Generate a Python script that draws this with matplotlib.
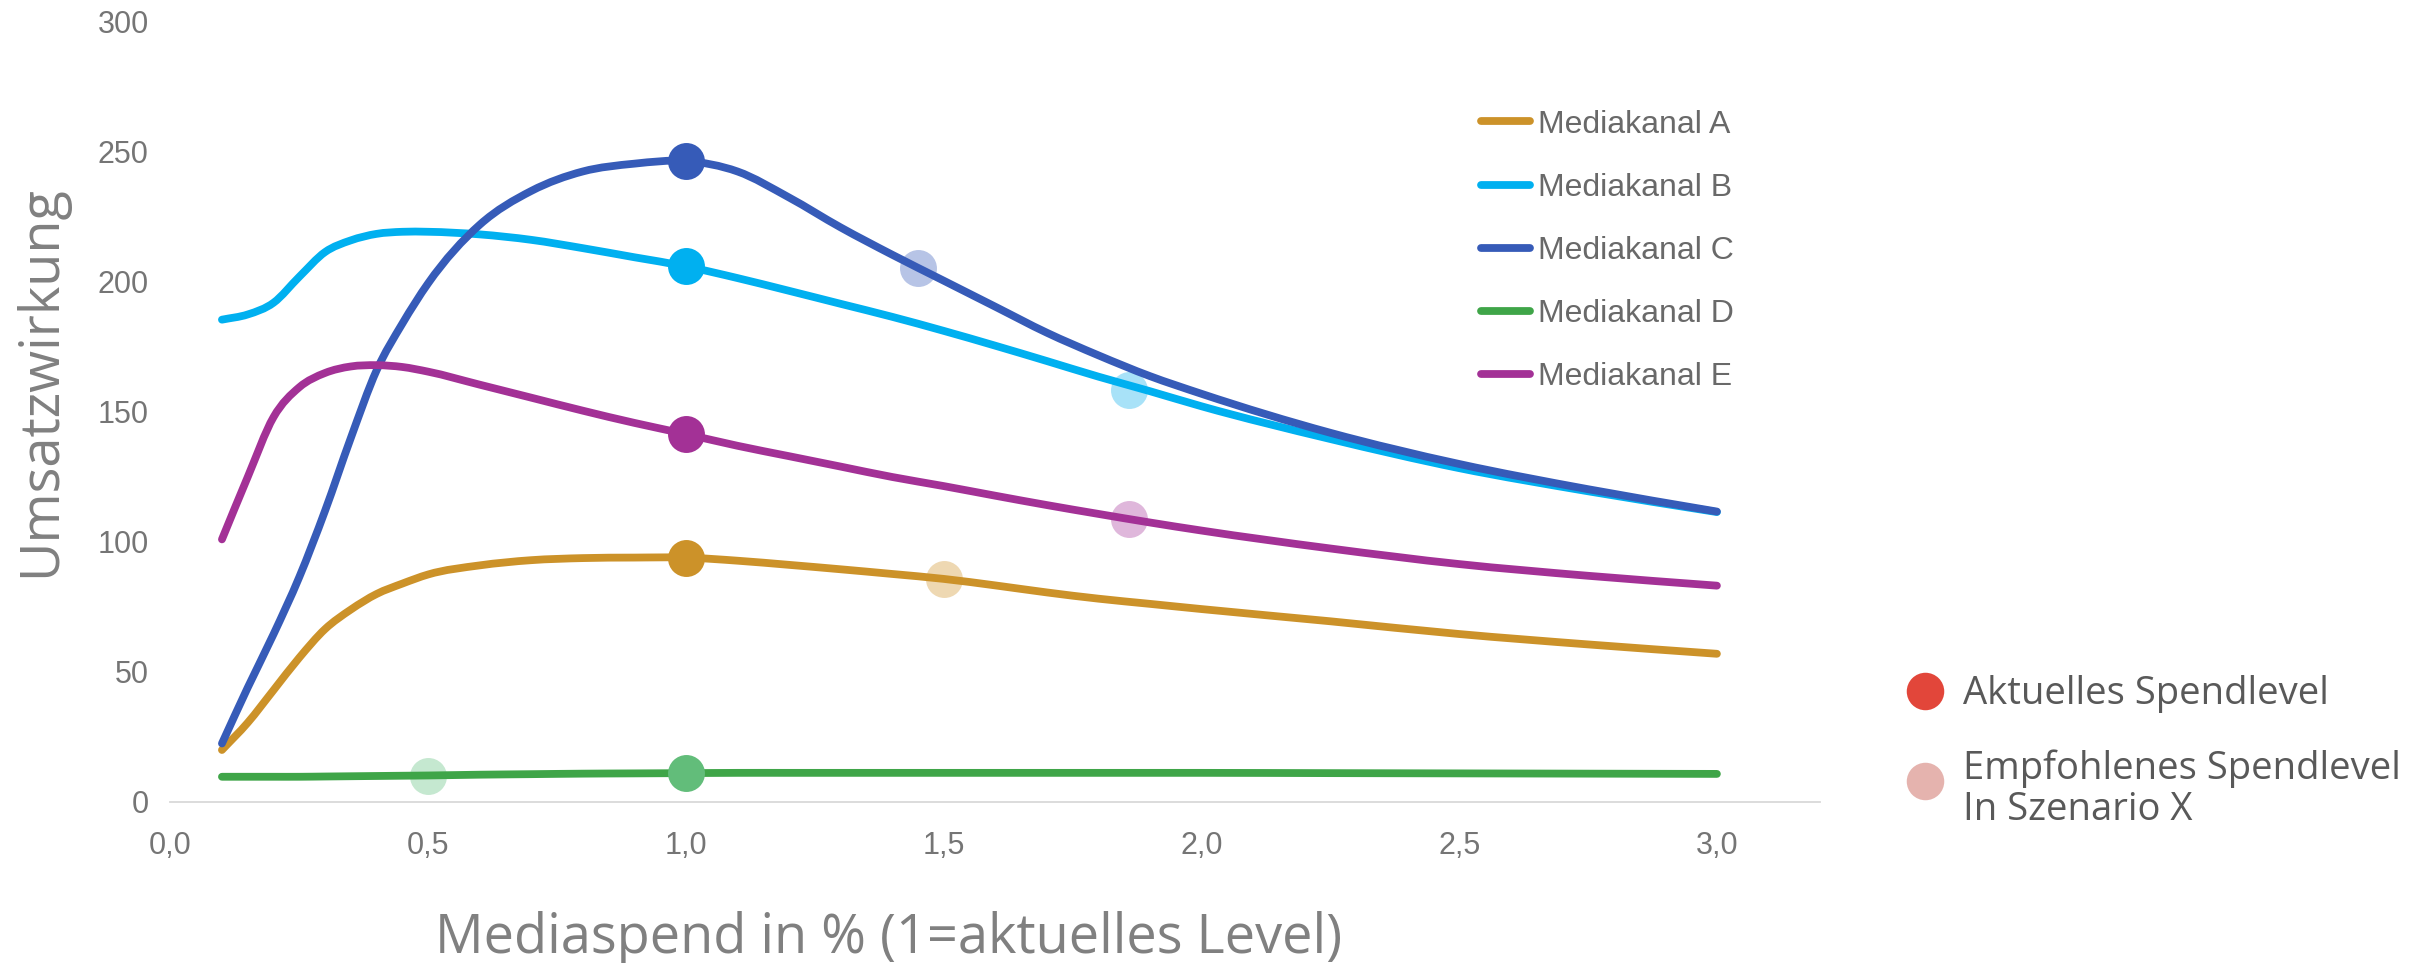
import numpy as np
import matplotlib.pyplot as plt
from matplotlib.lines import Line2D
from matplotlib.path import Path
from matplotlib.patches import PathPatch
from matplotlib.legend_handler import HandlerLine2D

# Mediaspend (1 = aktuelles Level)
spend = [0.1, 0.15, 0.2, 0.25, 0.3, 0.35, 0.4, 0.45, 0.5, 0.6, 0.7, 0.8, 0.9, 1.0,
         1.1, 1.2, 1.3, 1.4, 1.5, 1.6, 1.7, 1.8, 1.9, 2.0, 2.25, 2.5, 2.75, 3.0]

kanal_a = [20, 30.5, 43, 55.5, 66.5, 74, 80, 84, 87.5, 91, 93, 93.8, 94, 94,
           92.8, 91.2, 89.5, 87.7, 85.8, 83.3, 80.6, 78.2, 76.2, 74.2, 69.5, 64.6, 60.6, 57]
kanal_b = [185.5, 187.5, 192, 202, 211.5, 216, 218.5, 219.3, 219.3, 218.3, 216.2, 213, 209.5, 206,
           201.5, 196.6, 191.6, 186.6, 181.2, 175.5, 169.6, 163.6, 158, 152.2, 139.6, 128.4, 119.5, 111.5]
kanal_c = [22.5, 44, 64.5, 86.5, 112, 140, 166, 184, 199.5, 222, 235, 242.5, 245.5, 246.5,
           242.5, 232.5, 221, 210.5, 200.5, 190.5, 180.5, 171.8, 163.8, 157, 142, 130, 120.3, 111.7]
kanal_d = [9.7, 9.7, 9.7, 9.7, 9.8, 9.9, 10, 10.1, 10.2, 10.5, 10.7, 10.9, 11, 11.1,
           11.2, 11.2, 11.2, 11.2, 11.2, 11.2, 11.2, 11.2, 11.2, 11.2, 11.1, 11, 10.9, 10.8]
kanal_e = [101, 125, 148, 159.5, 165, 167.5, 168, 167.3, 165.5, 160.5, 155.5, 150.5, 145.8, 141.5,
           137, 133, 129, 125, 121.5, 117.8, 114.2, 110.8, 107.5, 104.4, 97.5, 91.5, 87, 83.2]

kanaele = [kanal_a, kanal_b, kanal_c, kanal_d, kanal_e]
namen = ['Mediakanal A', 'Mediakanal B', 'Mediakanal C', 'Mediakanal D', 'Mediakanal E']
farben = ['#CC9229', '#00B0F0', '#365BB8', '#3FA548', '#A33196']
punkt_farben = ['#CC9229', '#00B0F0', '#365BB8', '#62BD7A', '#A33196']
hell_farben = ['#EED8B2', '#A8E2F8', '#B7C4E6', '#C5E8D0', '#DFB7DB']

# Aktuelles Spendlevel (x = 1) und empfohlenes Spendlevel in Szenario X
aktuell_x = [1.0, 1.0, 1.0, 1.0, 1.0]
aktuell_y = [94, 206, 246.5, 11.1, 141.5]
empfohlen_x = [1.5, 1.86, 1.45, 0.5, 1.86]
empfohlen_y = [85.8, 158.5, 205.3, 10.1, 108.7]

x_ticks = [0, 0.5, 1.0, 1.5, 2.0, 2.5, 3.0]
x_tick_labels = ['0,0', '0,5', '1,0', '1,5', '2,0', '2,5', '3,0']
y_ticks = [0, 50, 100, 150, 200, 250, 300]


def glatte_linie(ax, xs, ys, **kw):
    # geglaettete Linie wie in Excel: kubische Bezier-Segmente durch die Punkte
    x = np.asarray(xs, float)
    y = np.asarray(ys, float)
    m = np.gradient(y, x)
    verts = [(x[0], y[0])]
    codes = [Path.MOVETO]
    for i in range(len(x) - 1):
        h = x[i + 1] - x[i]
        verts += [(x[i] + h / 3, y[i] + m[i] * h / 3),
                  (x[i + 1] - h / 3, y[i + 1] - m[i + 1] * h / 3),
                  (x[i + 1], y[i + 1])]
        codes += [Path.CURVE4] * 3
    patch = PathPatch(Path(verts, codes), fill=False, **kw)
    ax.add_patch(patch)
    return patch


class VersetzterPunkt(HandlerLine2D):
    def __init__(self, dy=0, **kw):
        super().__init__(**kw)
        self.dy = dy

    def create_artists(self, legend, orig_handle, xdescent, ydescent,
                       width, height, fontsize, trans):
        artists = super().create_artists(legend, orig_handle, xdescent, ydescent,
                                          width, height, fontsize, trans)
        for a in artists:
            a.set_ydata(np.asarray(a.get_ydata()) + self.dy)
        return artists


fig = plt.figure(figsize=(24.17, 9.63), dpi=100)
ax = fig.add_axes([0.0705, 0.1672, 0.6825, 0.81])

for werte, farbe in zip(kanaele, farben):
    glatte_linie(ax, spend, werte, edgecolor=farbe, lw=5.6, capstyle='round',
                 joinstyle='round', zorder=3)

for x, y, farbe in zip(empfohlen_x, empfohlen_y, hell_farben):
    ax.plot([x], [y], 'o', ms=26.6, mew=0, color=farbe, zorder=2)
for x, y, farbe in zip(aktuell_x, aktuell_y, punkt_farben):
    ax.plot([x], [y], 'o', ms=26.6, mew=0, color=farbe, zorder=4)

ax.set_xlim(0, 3.2)
ax.set_ylim(0, 300)
ax.set_xticks(x_ticks)
ax.set_xticklabels(x_tick_labels)
ax.set_yticks(y_ticks)
for s in ['top', 'right', 'left']:
    ax.spines[s].set_visible(False)
ax.spines['bottom'].set_color('#D9D9D9')
ax.spines['bottom'].set_linewidth(1.3)
ax.tick_params(axis='both', length=0, labelsize=22, labelcolor='#757575')
ax.tick_params(axis='x', pad=21)
ax.tick_params(axis='y', pad=15.5)
for lab in ax.get_xticklabels() + ax.get_yticklabels():
    lab.set_fontfamily('Liberation Sans')

linien = [Line2D([], [], color=f, lw=5.6, solid_capstyle='round') for f in farben]
leg1 = ax.legend(handles=linien, labels=namen, loc='center left',
                 bbox_to_anchor=(1481 / 2417, 1 - 251 / 963),
                 bbox_transform=fig.transFigure, frameon=False,
                 prop={'family': 'Liberation Sans', 'size': 23},
                 labelcolor='#696969', handlelength=1.53, handletextpad=0.24,
                 labelspacing=1.04, borderpad=0, borderaxespad=0)
ax.add_artist(leg1)

punkt_handles = [
    Line2D([], [], ls='', marker='o', ms=27, mew=0, color='#E2463A'),
    Line2D([], [], ls='', marker='o', ms=27, mew=0, color='#E5B3AE'),
]
leg2 = ax.legend(handles=punkt_handles,
                 labels=['Aktuelles Spendlevel', 'Empfohlenes Spendlevel\nIn Szenario X'],
                 handler_map={punkt_handles[1]: VersetzterPunkt(dy=6.5)},
                 loc='center left', bbox_to_anchor=(1906 / 2417, 1 - 752 / 963),
                 bbox_transform=fig.transFigure, frameon=False,
                 prop={'family': 'Open Sans', 'size': 27.5}, labelcolor='#595959',
                 handlelength=1.0, handletextpad=0.5, labelspacing=0.95,
                 borderpad=0, borderaxespad=0)
for t in leg2.get_texts():
    t.set_linespacing(1.08)

fig.text(889 / 2417, 1 - 938 / 963, 'Mediaspend in % (1=aktuelles Level)',
         ha='center', va='center', fontsize=39, color='#808080', family='Open Sans')
fig.text(41 / 2417, 1 - 381 / 963, 'Umsatzwirkung', rotation=90,
         ha='center', va='center', fontsize=39, color='#808080', family='Open Sans')

fig.savefig('out.png', dpi=100)
